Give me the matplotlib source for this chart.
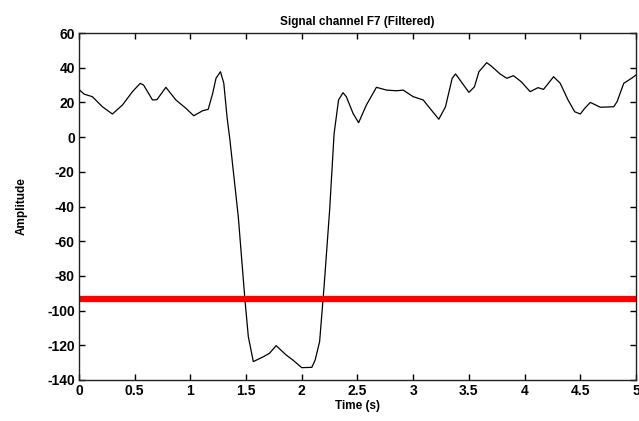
import numpy as np
import matplotlib
matplotlib.use("Agg")
import matplotlib.pyplot as plt

# signal samples (time in s, amplitude)
time_s = [0.00, 0.045, 0.12, 0.21, 0.30, 0.39, 0.48, 0.55, 0.58, 0.66,
          0.70, 0.78, 0.87, 0.96, 1.03, 1.11, 1.16, 1.20, 1.23, 1.27,
          1.30, 1.33, 1.355, 1.43, 1.49, 1.52, 1.565, 1.655, 1.71, 1.77,
          1.86, 1.92, 2.00, 2.09, 2.12, 2.16, 2.20, 2.25, 2.29,
          2.33, 2.37, 2.40, 2.46, 2.51, 2.58, 2.67, 2.76, 2.85, 2.91,
          3.00, 3.09, 3.15, 3.23, 3.29, 3.35, 3.38, 3.42, 3.50, 3.55,
          3.59, 3.66, 3.70, 3.78, 3.84, 3.90, 3.97, 4.05, 4.12, 4.17,
          4.26, 4.32, 4.39, 4.45, 4.50, 4.54, 4.59, 4.68, 4.80, 4.83,
          4.89, 4.96, 5.00]
amplitude = [27.5, 24.8, 23.3, 17.5, 13.3, 18.5, 26.2, 31.0, 30.0, 21.4,
             21.6, 28.7, 21.4, 16.6, 12.3, 15.2, 16.0, 25.2, 33.9, 37.7,
             31.0, 11.0, -1.7, -45.9, -93.9, -115.0, -129.4, -126.6, -124.6, -120.2,
             -125.6, -128.5, -132.9, -132.7, -128.5, -117.9, -86.2, -42.0, 2.0,
             21.4, 25.6, 23.3, 13.7, 8.3, 18.5, 28.7, 27.1, 26.7, 27.1,
             23.3, 21.4, 16.6, 10.3, 17.5, 33.9, 36.4, 32.9, 25.8, 29.0,
             37.7, 42.9, 41.0, 36.4, 33.9, 35.4, 31.9, 26.2, 28.5, 27.5,
             34.8, 31.0, 21.4, 14.6, 13.3, 16.6, 20.0, 17.2, 17.5, 20.4,
             31.0, 33.9, 35.8]
threshold = -93.3

x_ticks = [0, 0.5, 1, 1.5, 2, 2.5, 3, 3.5, 4, 4.5, 5]
x_labels = ["0", "0.5", "1", "1.5", "2", "2.5", "3", "3.5", "4", "4.5", "5"]
y_ticks = [-140, -120, -100, -80, -60, -40, -20, 0, 20, 40, 60]

plt.rcParams["font.family"] = ["Liberation Sans", "DejaVu Sans"]
plt.rcParams["font.weight"] = "bold"
plt.rcParams["axes.unicode_minus"] = False

fig = plt.figure(figsize=(6.39, 4.21), dpi=100)
ax = fig.add_axes([0.1236, 0.0974, 0.8717, 0.8242])

ax.plot(time_s, amplitude, c="k", lw=0.9)
ax.axhline(threshold, c="#ff0000", lw=4.5)

ax.set_xlim(0, 5)
ax.set_ylim(-140, 60)
ax.set_xticks(x_ticks)
ax.set_xticklabels(x_labels)
ax.set_yticks(y_ticks)
ax.tick_params(direction="in", length=4, width=1, top=True, right=True,
               labelsize=10, pad=3)
for lab in ax.get_xticklabels() + ax.get_yticklabels():
    lab.set_fontweight("bold")
for sp in ax.spines.values():
    sp.set_linewidth(1)
    sp.set_color("#222222")

ax.set_title("Signal channel F7 (Filtered)", fontsize=8.5, fontweight="bold", pad=6)
ax.set_xlabel("Time (s)", fontsize=8.5, fontweight="bold", labelpad=1)
ax.set_ylabel("Amplitude", fontsize=8.5, fontweight="bold", labelpad=14)

fig.savefig("out.png", dpi=100)
